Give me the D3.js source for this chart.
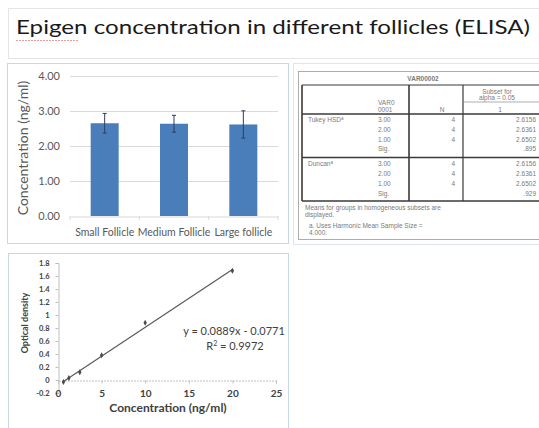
<!DOCTYPE html>
<html>
<head>
<meta charset="utf-8">
<script src="https://cdn.jsdelivr.net/npm/d3@7"></script>
<style>
  html, body { margin: 0; padding: 0; background: #fff; }
  svg { display: block; }
</style>
</head>
<body>
<svg id="chart" width="539" height="428"></svg>
<script>
// ---- Bar chart data: mean epigen concentration per follicle class ----
const follicleCategories = ["Small Follicle", "Medium Follicle", "Large follicle"];
const follicleMeans = [2.6502, 2.6361, 2.6156];
const follicleErrors = [0.28, 0.24, 0.39];
const barTicks = [0, 1, 2, 3, 4];

// ---- Standard curve data ----
const stdConcentration = [0.625, 1.25, 2.5, 5, 10, 20];
const stdOpticalDensity = [-0.03, 0.03, 0.12, 0.38, 0.88, 1.68];
const fitSlope = 0.0889;
const fitIntercept = -0.0771;
const fitR2 = "0.9972";
const odTicks = [-0.2, 0, 0.2, 0.4, 0.6, 0.8, 1, 1.2, 1.4, 1.6, 1.8];
const concTicks = [0, 5, 10, 15, 20, 25];

// ---- Homogeneous subsets table ----
const tableTitle = "VAR00002";
const tableGroups = ["Tukey HSD", "Duncan"];
const tableLevels = ["3.00", "2.00", "1.00", "Sig."];
const tableN = ["4", "4", "4", ""];
const tableSubset = [
  ["2.6156", "2.6361", "2.6502", ".895"],
  ["2.6156", "2.6361", "2.6502", ".929"]
];
const tableNotes = [
  "Means for groups in homogeneous subsets are",
  "displayed.",
  "a. Uses Harmonic Mean Sample Size =",
  "4.000."
];

const svg = d3.select("#chart");
const font = "Lato, 'Open Sans', sans-serif";

// ---- Title box ----
svg.append("rect").attr("x", 8.5).attr("y", 8.5).attr("width", 540).attr("height", 50)
  .attr("fill", "#fff").attr("stroke", "#e2e6ea");
svg.append("text").attr("x", 16).attr("y", 34)
  .attr("font-family", font).attr("font-size", 20).attr("fill", "#1a1a1a")
  .attr("textLength", 514).attr("lengthAdjust", "spacingAndGlyphs")
  .text("Epigen concentration in different follicles (ELISA)");
svg.append("path").attr("d", "M16,40.5 H78").attr("stroke", "#e0a0a0")
  .attr("stroke-width", 1).attr("stroke-dasharray", "2,1");

// ---- Panels ----
svg.append("rect").attr("x", 7.5).attr("y", 63.5).attr("width", 281).attr("height", 180)
  .attr("fill", "#fff").attr("stroke", "#c9d6e6");
svg.append("rect").attr("x", 293.5).attr("y", 63.5).attr("width", 250).attr("height", 181)
  .attr("fill", "#fff").attr("stroke", "#dfe5ee");
svg.append("rect").attr("x", 8.5).attr("y", 253.5).attr("width", 280).attr("height", 180)
  .attr("fill", "#fff").attr("stroke", "#c9d6e6");

// ---- Bar chart ----
const bx = d3.scaleBand().domain(follicleCategories).range([70, 278]).paddingInner(0.6).paddingOuter(0.3);
const bandX = d3.scaleBand().domain(follicleCategories).range([70, 278]);
const by = d3.scaleLinear().domain([0, 4]).range([216, 76]);
const bar = svg.append("g");

bar.selectAll("line.grid").data(barTicks.slice(1)).join("line")
  .attr("x1", 70).attr("x2", 278)
  .attr("y1", d => Math.round(by(d)) + 0.5).attr("y2", d => Math.round(by(d)) + 0.5)
  .attr("stroke", "#d9d9d9");

const byAxis = bar.append("g").attr("transform", "translate(70,0)")
  .call(d3.axisLeft(by).tickValues(barTicks).tickFormat(d3.format(".2f")).tickSize(0).tickPadding(10));
byAxis.select(".domain").remove();
byAxis.selectAll("text").attr("font-family", font).attr("font-size", 11).attr("fill", "#595959");

const bxAxis = bar.append("g").attr("transform", "translate(0,216.5)")
  .call(d3.axisBottom(bandX).tickSize(0).tickPadding(12));
bxAxis.select(".domain").attr("stroke", "#d9d9d9");
bxAxis.selectAll("text").attr("font-family", font).attr("font-size", 10.5).attr("fill", "#595959");
bar.selectAll("line.btick").data([70, 139.3, 208.7, 278]).join("line")
  .attr("x1", d => d).attr("x2", d => d).attr("y1", 216).attr("y2", 220).attr("stroke", "#d9d9d9");

bar.selectAll("rect.bar").data(follicleCategories).join("rect")
  .attr("x", d => bx(d) + (bx.bandwidth() - 28) / 2).attr("width", 28)
  .attr("y", (d, i) => by(follicleMeans[i]))
  .attr("height", (d, i) => by(0) - by(follicleMeans[i]))
  .attr("fill", "#4a7ebb");

const eb = bar.selectAll("g.err").data(follicleCategories).join("g");
eb.append("line")
  .attr("x1", d => bx(d) + bx.bandwidth() / 2).attr("x2", d => bx(d) + bx.bandwidth() / 2)
  .attr("y1", (d, i) => by(follicleMeans[i] + follicleErrors[i]))
  .attr("y2", (d, i) => by(follicleMeans[i] - follicleErrors[i]))
  .attr("stroke", "#2b3f5c").attr("stroke-width", 1);
[1, -1].forEach(s => {
  eb.append("line")
    .attr("x1", d => bx(d) + bx.bandwidth() / 2 - 2).attr("x2", d => bx(d) + bx.bandwidth() / 2 + 2)
    .attr("y1", (d, i) => by(follicleMeans[i] + s * follicleErrors[i]))
    .attr("y2", (d, i) => by(follicleMeans[i] + s * follicleErrors[i]))
    .attr("stroke", "#2b3f5c").attr("stroke-width", 1);
});

bar.append("text").attr("transform", "translate(28,148) rotate(-90)")
  .attr("text-anchor", "middle").attr("font-family", font).attr("font-size", 14).attr("fill", "#595959")
  .text("Concentration (ng/ml)");

// ---- Standard curve ----
const sx = d3.scaleLinear().domain([0, 25]).range([58, 276]);
const sy = d3.scaleLinear().domain([-0.2, 1.8]).range([393, 263]);
const sc = svg.append("g");

const syAxis = sc.append("g").attr("transform", "translate(58.5,0)")
  .call(d3.axisLeft(sy).tickValues(odTicks).tickFormat(d => String(+d.toFixed(1))).tickSize(3).tickPadding(6));
syAxis.select(".domain").attr("stroke", "#bfbfbf");
syAxis.selectAll("line").attr("stroke", "#bfbfbf");
syAxis.selectAll("text").attr("font-family", font).attr("font-size", 7.5).attr("font-weight", "bold").attr("fill", "#404040");

// horizontal axis crosses at OD = 0, its labels sit level with the lowest tick
const sxAxis = sc.append("g").attr("transform", `translate(0,${sy(0) + 0.5})`)
  .call(d3.axisBottom(sx).tickValues(concTicks).tickSize(3));
sxAxis.select(".domain").attr("stroke", "#bfbfbf").attr("stroke-dasharray", "2,1");
sxAxis.selectAll("line").attr("stroke", "#bfbfbf");
sxAxis.selectAll("text").attr("y", sy(-0.2) - sy(0) - 3.5)
  .attr("font-family", font).attr("font-size", 10).attr("font-weight", "bold").attr("fill", "#404040");

const xMin = d3.min(stdConcentration), xMax = d3.max(stdConcentration);
sc.append("line")
  .attr("x1", sx(xMin)).attr("y1", sy(fitSlope * xMin + fitIntercept))
  .attr("x2", sx(xMax)).attr("y2", sy(fitSlope * xMax + fitIntercept))
  .attr("stroke", "#595959").attr("stroke-width", 1.2);

sc.selectAll("path.pt").data(stdConcentration).join("path")
  .attr("transform", (d, i) => `translate(${sx(d)},${sy(stdOpticalDensity[i])})`)
  .attr("d", d3.symbol(d3.symbolDiamond, 10))
  .attr("fill", "#4a4a4a");

sc.append("text").attr("x", 234).attr("y", 335).attr("text-anchor", "middle")
  .attr("font-family", font).attr("font-size", 11).attr("fill", "#404040")
  .text(`y = ${fitSlope}x - ${Math.abs(fitIntercept)}`);
const r2 = sc.append("text").attr("x", 235).attr("y", 350).attr("text-anchor", "middle")
  .attr("font-family", font).attr("font-size", 11).attr("fill", "#404040");
r2.append("tspan").text("R");
r2.append("tspan").attr("font-size", 7).attr("dy", -4).text("2");
r2.append("tspan").attr("dy", 4).text(` = ${fitR2}`);

sc.append("text").attr("transform", "translate(28,323) rotate(-90)")
  .attr("text-anchor", "middle").attr("font-family", font).attr("font-size", 9)
  .attr("font-weight", "bold").attr("fill", "#404040").text("Optical density");
sc.append("text").attr("x", 168).attr("y", 412).attr("text-anchor", "middle")
  .attr("font-family", font).attr("font-size", 12).attr("font-weight", "bold").attr("fill", "#404040")
  .text("Concentration (ng/ml)");

// ---- Homogeneous subsets table ----
const tb = svg.append("g");
const tf = "'Liberation Sans', Arial, sans-serif";
const tc = "#7a7a7a";
const line = (x1, y1, x2, y2, w, c) => tb.append("line")
  .attr("x1", x1).attr("y1", y1).attr("x2", x2).attr("y2", y2)
  .attr("stroke", c || "#3a3a3a").attr("stroke-width", w || 1);
const txt = (x, y, s, anchor, size, weight) => tb.append("text").attr("x", x).attr("y", y)
  .attr("text-anchor", anchor || "start").attr("font-family", tf).attr("font-size", size || 6.5)
  .attr("font-weight", weight || "normal").attr("fill", tc).text(s);

tb.append("rect").attr("x", 298.5).attr("y", 71.5).attr("width", 245).attr("height", 168)
  .attr("fill", "#fff").attr("stroke", "#9a9a9a").attr("stroke-width", 0.8);
txt(423, 81, tableTitle, "middle", 6.5, "bold");
line(302, 85, 539, 85, 1.2);
line(302, 85, 302, 201, 1.6);
line(409, 85, 409, 201, 1.6);
line(463, 85, 463, 201, 1.2);
line(302, 114, 539, 114, 1.6);
line(302, 157.5, 539, 157.5, 1.6);
line(302, 201, 539, 201, 1.6);
line(463, 102, 539, 102, 0.6, "#777");

txt(497, 94, "Subset for", "middle");
txt(497, 100, "alpha = 0.05", "middle");
txt(378, 105, "VAR0");
txt(378, 111.5, "0001");
txt(442, 111.5, "N", "middle");
txt(500, 111.5, "1", "middle");

const rowY = [121.5, 131.5, 141.5, 151];
tableGroups.forEach((g, gi) => {
  const off = gi * 44.5;
  const t = txt(308, rowY[0] + off, g);
  t.append("tspan").attr("font-size", 4.5).attr("dy", -2).text("a");
  tableLevels.forEach((lv, li) => {
    txt(378, rowY[li] + off, lv);
    txt(455, rowY[li] + off, tableN[li], "end");
    txt(536, rowY[li] + off, tableSubset[gi][li], "end");
  });
});

txt(305, 210, tableNotes[0]);
txt(305, 216.5, tableNotes[1]);
txt(309, 228, tableNotes[2]);
txt(309, 234.5, tableNotes[3]);
</script>
</body>
</html>
